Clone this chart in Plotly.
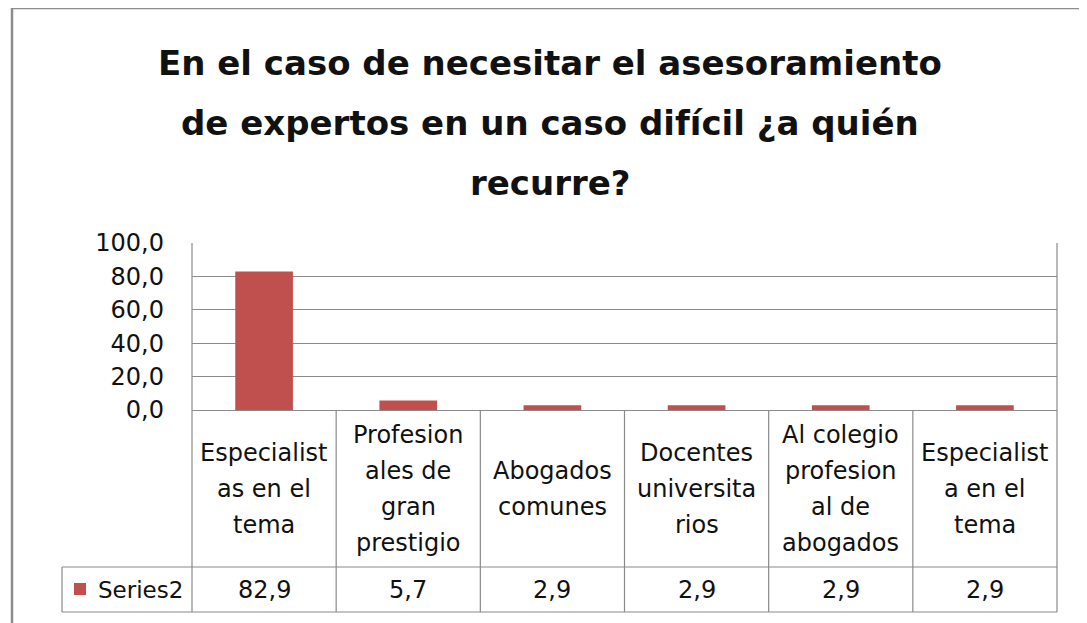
import plotly.graph_objects as go

W, H = 1087, 623

title_lines = ["En el caso de necesitar el asesoramiento",
               "de expertos en un caso difícil ¿a quién",
               "recurre?"]
categories = ["Especialistas en el tema", "Profesionales de gran prestigio",
              "Abogados comunes", "Docentes universitarios",
              "Al colegio profesional de abogados", "Especialista en el tema"]
category_lines = [["Especialist", "as en el", "tema"],
                  ["Profesion", "ales de", "gran", "prestigio"],
                  ["Abogados", "comunes"],
                  ["Docentes", "universita", "rios"],
                  ["Al colegio", "profesion", "al de", "abogados"],
                  ["Especialist", "a en el", "tema"]]
values = [82.9, 5.7, 2.9, 2.9, 2.9, 2.9]
value_labels = ["82,9", "5,7", "2,9", "2,9", "2,9", "2,9"]
series_name = "Series2"

BAR = "#C0504D"
GRID = "#8a8a8a"
TXT = "#111111"
FONT = "DejaVu Sans"

OX, OY = 8, 8   # page body offset

def X(p):
    return (p - OX) / W

def Y(p):
    return 1 - (p - OY) / H

# layout geometry (pixels in the final screenshot)
PL, PR, PT, PB = 192, 1057, 243, 410   # plot area
ROW1_B, ROW2_B = 567, 612               # table rows
TL = 62                                  # table left
n = len(categories)
colw = (PR - PL) / n

fig = go.Figure()
fig.add_trace(go.Bar(x=categories, y=values, marker_color=BAR,
                     marker_line_width=0, name=series_name, showlegend=False))

shapes = []
# outer chart border
shapes.append(dict(type="rect", xref="paper", yref="paper",
                   x0=X(12), x1=X(1110), y0=Y(660), y1=Y(8),
                   line=dict(color="#8c8c8c", width=2.5)))
# table horizontal lines
for yy in [ROW1_B, ROW2_B]:
    shapes.append(dict(type="line", xref="paper", yref="paper",
                       x0=X(TL), x1=X(PR), y0=Y(yy), y1=Y(yy),
                       line=dict(color=GRID, width=1.2)))
# table vertical lines
for i in range(n + 1):
    xx = PL + i * colw
    shapes.append(dict(type="line", xref="paper", yref="paper",
                       x0=X(xx), x1=X(xx), y0=Y(ROW2_B),
                       y1=Y(PT if i in (0, n) else PB),
                       line=dict(color=GRID, width=1.2)))
shapes.append(dict(type="line", xref="paper", yref="paper",
                   x0=X(TL), x1=X(TL), y0=Y(ROW2_B), y1=Y(ROW1_B),
                   line=dict(color=GRID, width=1.2)))
# legend key
shapes.append(dict(type="rect", xref="paper", yref="paper",
                   x0=X(74), x1=X(86), y0=Y(595), y1=Y(583),
                   fillcolor=BAR, line=dict(width=0)))

annotations = []
# title
for i, t in enumerate(title_lines):
    annotations.append(dict(text=f"<b>{t}</b>", xref="paper", yref="paper",
                            x=X(550), y=Y(63 + 60 * i), showarrow=False,
                            xanchor="center", yanchor="middle",
                            font=dict(family=FONT, size=34, color=TXT)))
# category labels
LS = 36
mid = (PB + ROW1_B) / 2
for cat, lines in zip(categories, category_lines):
    k = len(lines)
    for j, ln in enumerate(lines):
        yy = mid + (j - (k - 1) / 2) * LS
        annotations.append(dict(text=ln, xref="x", yref="paper", x=cat, y=Y(yy),
                                showarrow=False, xanchor="center", yanchor="middle",
                                font=dict(family=FONT, size=24, color=TXT)))
# values row
vmid = (ROW1_B + ROW2_B) / 2
for cat, vl in zip(categories, value_labels):
    annotations.append(dict(text=vl, xref="x", yref="paper", x=cat, y=Y(vmid),
                            showarrow=False, xanchor="center", yanchor="middle",
                            font=dict(family=FONT, size=24, color=TXT)))
annotations.append(dict(text=series_name, xref="paper", yref="paper", x=X(96),
                        y=Y(vmid), showarrow=False, xanchor="left", yanchor="middle",
                        font=dict(family=FONT, size=23, color=TXT)))

fig.update_layout(
    width=W, height=H,
    margin=dict(l=0, r=0, t=0, b=0, pad=0, autoexpand=False),
    paper_bgcolor="white", plot_bgcolor="white",
    separators=",.",
    bargap=0.6,
    showlegend=False,
    shapes=shapes, annotations=annotations,
    xaxis=dict(domain=[X(PL), X(PR)], showticklabels=False, showgrid=False,
               zeroline=False, showline=False, ticks="", range=[-0.5, n - 0.5],
               automargin=False),
    yaxis=dict(domain=[Y(PB), Y(PT)], range=[0, 100], dtick=20, tickformat=".1f",
               showgrid=True, gridcolor=GRID, gridwidth=1.2,
               zeroline=True, zerolinecolor=GRID, zerolinewidth=1.2,
               showline=False, ticks="", ticklabelstandoff=27, automargin=False,
               tickfont=dict(family=FONT, size=24, color=TXT)),
)

fig.write_html("out.html")
